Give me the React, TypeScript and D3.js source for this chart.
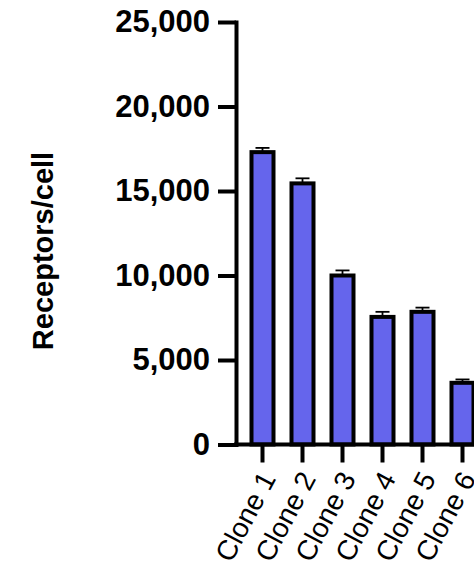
import React, { useRef, useEffect } from "react";
import * as d3 from "d3";

const clones = ["Clone 1", "Clone 2", "Clone 3", "Clone 4", "Clone 5", "Clone 6"];
const receptors = [17300, 15450, 10000, 7550, 7850, 3650];
const errors = [250, 300, 300, 300, 250, 200];
const yTicks = [0, 5000, 10000, 15000, 20000, 25000];

function ReceptorChart() {
  const ref = useRef<SVGSVGElement>(null);

  useEffect(() => {
    const svg = d3.select(ref.current);
    svg.selectAll("*").remove();

    const axisX = 236;
    const y = d3.scaleLinear().domain([0, 25000]).range([444.5, 22]);
    const x = d3
      .scaleBand()
      .domain(clones)
      .range([242.5, 242.5 + 40 * clones.length])
      .paddingInner(0.45)
      .paddingOuter(0.225);

    // bars
    svg
      .append("g")
      .selectAll("rect")
      .data(receptors)
      .join("rect")
      .attr("x", (d, i) => x(clones[i])!)
      .attr("y", (d) => y(d))
      .attr("width", x.bandwidth())
      .attr("height", (d) => y(0) - y(d))
      .attr("fill", "#6565EC")
      .attr("stroke", "#000")
      .attr("stroke-width", 4);

    // error bars (upper only)
    const eb = svg.append("g").attr("stroke", "#000").attr("stroke-width", 1.8);
    receptors.forEach((d, i) => {
      const cx = x(clones[i])! + x.bandwidth() / 2;
      eb.append("line")
        .attr("x1", cx)
        .attr("x2", cx)
        .attr("y1", y(d))
        .attr("y2", y(d + errors[i]));
      eb.append("line")
        .attr("x1", cx - 7)
        .attr("x2", cx + 7)
        .attr("y1", y(d + errors[i]))
        .attr("y2", y(d + errors[i]));
    });

    // y axis
    const yAxis = svg
      .append("g")
      .attr("transform", `translate(${axisX},0)`)
      .call(
        d3
          .axisLeft(y)
          .tickValues(yTicks)
          .tickSize(18)
          .tickSizeOuter(0)
          .tickPadding(8)
          .tickFormat(d3.format(","))
      );
    yAxis.select(".domain").attr("stroke-width", 4).attr("stroke-linecap", "square");
    yAxis.selectAll(".tick line").attr("stroke-width", 4);
    yAxis
      .selectAll(".tick text")
      .attr("font-family", "Liberation Sans, Arial, sans-serif")
      .attr("font-weight", "bold")
      .attr("font-size", 31)
      .attr("fill", "#000");

    // x axis
    const xg = svg.append("g");
    xg.append("line")
      .attr("x1", axisX - 2)
      .attr("x2", 480)
      .attr("y1", y(0))
      .attr("y2", y(0))
      .attr("stroke", "#000")
      .attr("stroke-width", 4);
    xg.selectAll("line.tick")
      .data(clones)
      .join("line")
      .attr("class", "tick")
      .attr("x1", (d) => x(d)! + x.bandwidth() / 2)
      .attr("x2", (d) => x(d)! + x.bandwidth() / 2)
      .attr("y1", y(0))
      .attr("y2", y(0) + 18)
      .attr("stroke", "#000")
      .attr("stroke-width", 4);
    xg.selectAll("text")
      .data(clones)
      .join("text")
      .attr(
        "transform",
        (d) => `translate(${x(d)! + x.bandwidth() / 2 + 14},${y(0) + 34}) rotate(-62)`
      )
      .attr("text-anchor", "end")
      .attr("font-family", "Liberation Sans, Arial, sans-serif")
      .attr("font-size", 28)
      .attr("fill", "#000")
      .text((d) => d);

    // y title
    svg
      .append("text")
      .attr("transform", "translate(53,251) rotate(-90)")
      .attr("text-anchor", "middle")
      .attr("font-family", "Liberation Sans, Arial, sans-serif")
      .attr("font-weight", "bold")
      .attr("font-size", 29)
      .attr("fill", "#000")
      .text("Receptors/cell");
  }, []);

  return (
    <svg
      ref={ref}
      width={474}
      height={571}
      style={{ position: "absolute", left: 0, top: 0, background: "#fff" }}
    ></svg>
  );
}

export default function App() {
  return <ReceptorChart />;
}
